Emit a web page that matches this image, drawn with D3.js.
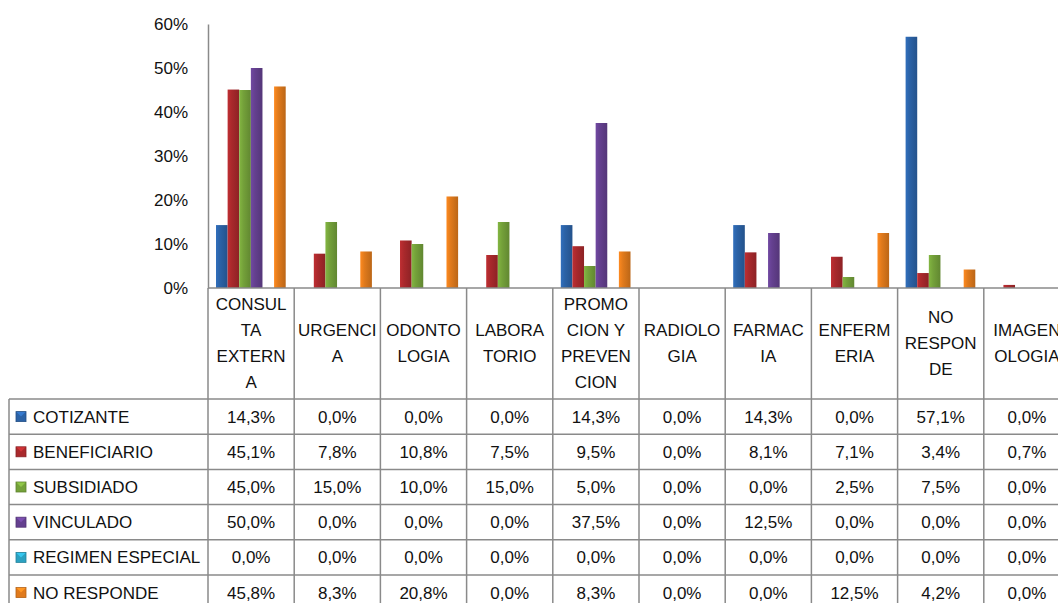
<!DOCTYPE html>
<html>
<head>
<meta charset="utf-8">
<script src="https://cdn.jsdelivr.net/npm/d3@7"></script>
<style>
  body { margin: 0; background: #fff; overflow: hidden; }
  svg { display: block; font-family: "Liberation Sans", Arial, sans-serif; }
</style>
</head>
<body>
<div id="chart"></div>
<script>
// categories (header lines as shown in the table)
var categories = ["CONSULTA EXTERNA", "URGENCIA", "ODONTOLOGIA", "LABORATORIO", "PROMOCION Y PREVENCION",
                  "RADIOLOGIA", "FARMACIA", "ENFERMERIA", "NO RESPONDE", "IMAGENOLOGIA"];
var categoryLines = [["CONSUL", "TA", "EXTERN", "A"], ["URGENCI", "A"], ["ODONTO", "LOGIA"], ["LABORA", "TORIO"],
                     ["PROMO", "CION Y", "PREVEN", "CION"], ["RADIOLO", "GIA"], ["FARMAC", "IA"], ["ENFERM", "ERIA"],
                     ["NO", "RESPON", "DE"], ["IMAGEN", "OLOGIA"]];
var seriesNames = ["COTIZANTE", "BENEFICIARIO", "SUBSIDIADO", "VINCULADO", "REGIMEN ESPECIAL", "NO RESPONDE"];

var cotizante       = [0.143, 0.000, 0.000, 0.000, 0.143, 0.000, 0.143, 0.000, 0.571, 0.000];
var beneficiario    = [0.451, 0.078, 0.108, 0.075, 0.095, 0.000, 0.081, 0.071, 0.034, 0.007];
var subsidiado      = [0.450, 0.150, 0.100, 0.150, 0.050, 0.000, 0.000, 0.025, 0.075, 0.000];
var vinculado       = [0.500, 0.000, 0.000, 0.000, 0.375, 0.000, 0.125, 0.000, 0.000, 0.000];
var regimenEspecial = [0.000, 0.000, 0.000, 0.000, 0.000, 0.000, 0.000, 0.000, 0.000, 0.000];
var noResponde      = [0.458, 0.083, 0.208, 0.000, 0.083, 0.000, 0.000, 0.125, 0.042, 0.000];

var yTicks = [0, 0.1, 0.2, 0.3, 0.4, 0.5, 0.6];

var seriesValues = [cotizante, beneficiario, subsidiado, vinculado, regimenEspecial, noResponde];
var colors = ["#2b62a6", "#a9292c", "#74a13a", "#64408f", "#2ba1c1", "#e07a1c"];

var W = 1058, H = 603;
var plotLeft = 208, plotTop = 24, base = 288, colW = 86.2;
var rowH = 35.2, headerBottom = 399, tableLeft = 9;
var gridColor = "#8a8a8a";

var svg = d3.select("#chart").append("svg").attr("width", W).attr("height", H);
var defs = svg.append("defs");

colors.forEach(function(c, i) {
  var g = defs.append("linearGradient").attr("id", "g" + i).attr("x1", "0").attr("x2", "1").attr("y1", "0").attr("y2", "0");
  g.append("stop").attr("offset", "0%").attr("stop-color", d3.color(c).brighter(0.35));
  g.append("stop").attr("offset", "35%").attr("stop-color", c);
  g.append("stop").attr("offset", "100%").attr("stop-color", d3.color(c).darker(0.5));
});

var x0 = d3.scaleBand().domain(categories).range([plotLeft, plotLeft + colW * categories.length]);
var x1 = d3.scaleBand().domain(seriesNames).range([8, colW - 8.5]);
var y = d3.scaleLinear().domain([0, 0.6]).range([base, plotTop]);

// bars
var cat = svg.append("g").selectAll("g").data(categories).enter().append("g")
  .attr("transform", function(d) { return "translate(" + x0(d) + ",0)"; });
cat.selectAll("rect").data(function(d, ci) {
    return seriesNames.map(function(s, si) { return {s: s, si: si, v: seriesValues[si][ci]}; });
  })
  .enter().append("rect")
  .attr("x", function(d) { return x1(d.s); })
  .attr("width", x1.bandwidth())
  .attr("y", function(d) { return y(d.v); })
  .attr("height", function(d) { return base - y(d.v); })
  .attr("fill", function(d) { return "url(#g" + d.si + ")"; });

// y axis
var yAxis = d3.axisLeft(y).tickValues(yTicks).tickFormat(d3.format(".0%")).tickSize(0).tickPadding(20);
var ya = svg.append("g").attr("transform", "translate(" + plotLeft + ",0)").call(yAxis);
ya.select(".domain").attr("stroke", gridColor).attr("stroke-width", 1.5);
ya.selectAll("text").attr("font-size", 17).attr("fill", "#111").style("font-family", "'Liberation Sans', Arial, sans-serif");

// data table
var fmt = d3.formatLocale({decimal: ",", thousands: ".", grouping: [3], currency: ["", ""]}).format(".1%");
var tbl = svg.append("g").attr("font-size", 17).attr("fill", "#111");
var tableBottom = headerBottom + rowH * seriesNames.length;

// horizontal lines
tbl.append("line").attr("x1", plotLeft).attr("x2", W + 5).attr("y1", base).attr("y2", base);
d3.range(seriesNames.length + 1).forEach(function(r) {
  tbl.append("line").attr("x1", tableLeft).attr("x2", W + 5)
    .attr("y1", headerBottom + r * rowH).attr("y2", headerBottom + r * rowH);
});
// vertical lines
tbl.append("line").attr("x1", tableLeft).attr("x2", tableLeft).attr("y1", headerBottom).attr("y2", tableBottom);
categories.forEach(function(c, i) {
  var xx = x0(c) + colW;
  tbl.append("line").attr("x1", xx).attr("x2", xx).attr("y1", base).attr("y2", tableBottom);
});
tbl.append("line").attr("x1", plotLeft).attr("x2", plotLeft).attr("y1", base).attr("y2", tableBottom);
tbl.selectAll("line").attr("stroke", gridColor).attr("stroke-width", 1.5);

// header labels
categories.forEach(function(c, i) {
  var lines = categoryLines[i];
  var mid = (base + headerBottom) / 2;
  var lh = 26;
  lines.forEach(function(t, k) {
    tbl.append("text").attr("x", x0(c) + colW / 2)
      .attr("y", mid + (k - (lines.length - 1) / 2) * lh)
      .attr("dy", "0.35em").attr("text-anchor", "middle").text(t);
  });
});

// rows
seriesNames.forEach(function(s, si) {
  var cy = headerBottom + si * rowH + rowH / 2;
  var c = colors[si];
  tbl.append("rect").attr("x", 16).attr("y", cy - 5).attr("width", 10).attr("height", 10)
    .attr("fill", c).attr("stroke", d3.color(c).darker(0.6)).attr("stroke-width", 0.8);
  tbl.append("path")
    .attr("d", "M16.5," + (cy - 4.5) + "L21," + (cy) + "L25.5," + (cy - 4.5) + "Z")
    .attr("fill", d3.color(c).brighter(0.6));
  tbl.append("text").attr("x", 33).attr("y", cy).attr("dy", "0.35em").text(s);
  categories.forEach(function(cn, ci) {
    tbl.append("text").attr("x", x0(cn) + colW / 2).attr("y", cy).attr("dy", "0.35em")
      .attr("text-anchor", "middle").text(fmt(seriesValues[si][ci]));
  });
});
</script>
</body>
</html>
